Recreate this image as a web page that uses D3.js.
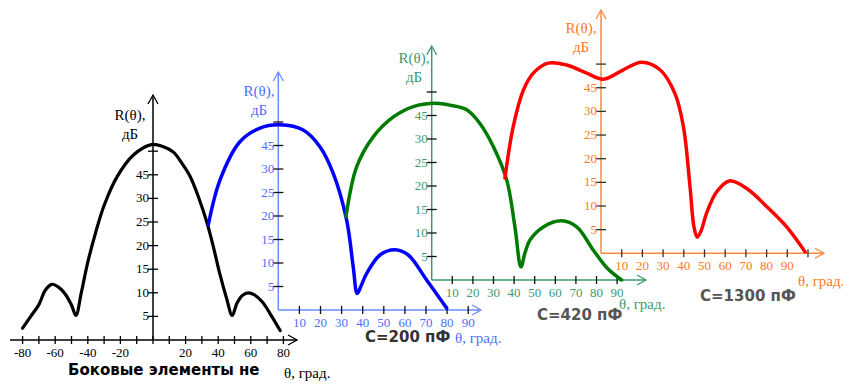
<!DOCTYPE html>
<html>
<head>
<meta charset="utf-8">
<script src="https://cdn.jsdelivr.net/npm/d3@7"></script>
<style>
  body { margin: 0; background: #fff; }
  svg { display: block; }
  .tick-label { font-family: "Liberation Serif", "DejaVu Serif", serif; font-size: 13px; }
  .axis-title { font-family: "Liberation Serif", "DejaVu Serif", serif; font-size: 15px; }
  .cap { font-family: "DejaVu Sans", sans-serif; font-size: 15px; font-weight: bold; }
</style>
</head>
<body>
<div id="chart"></div>
<script>
// R(theta) curves, [theta in degrees, level]
const sideOff = [[-80, 2.5], [-75, 5], [-70, 7.5], [-66, 10.6], [-62, 11.8], [-58, 11.2], [-54, 9.8], [-50, 7.4], [-47.3, 5.2], [-44, 10], [-40, 16.5], [-35, 23], [-30, 28.5], [-22, 34.6], [-12, 39.2], [-1, 41.4], [6, 41], [12.5, 39.8], [18, 37.3], [23, 34.5], [28, 30.2], [33, 25], [37, 19.8], [41, 14], [45, 9], [48.6, 5.2], [51.5, 7.8], [55, 9.5], [58.5, 10], [62, 9.6], [67, 8.1], [72, 5.5], [78, 2]];
const c200 = [[-33.2, 18.1], [-27.6, 27.7], [-18.2, 35.8], [-8.7, 38.7], [0.8, 39.4], [11.8, 38.3], [19.8, 34.7], [26, 29.1], [32.4, 19.1], [35.5, 9.2], [37.4, 3.5], [39.4, 5.3], [41.9, 7.8], [48.2, 11.7], [55.3, 12.8], [61.6, 11.7], [70.3, 6.4], [79.8, 0.4]];
const c420 = [[-41.6, 13.5], [-36.4, 24.1], [-28.3, 30.5], [-18.6, 34.7], [-8.9, 36.9], [1.6, 37.6], [8.9, 37.2], [17, 36.2], [23.4, 33.3], [29.9, 28.4], [36.4, 21.3], [40.4, 11.3], [43.3, 2.8], [45.3, 5.8], [47.7, 8.5], [54.2, 11.3], [63.1, 12.6], [70.4, 11.3], [78.4, 6.4], [85, 2.6], [92.2, 0]];
const c1300 = [[-46.4, 15.9], [-42.4, 26.8], [-37.5, 34.5], [-32.7, 38.1], [-25.5, 40.2], [-16.6, 39.8], [-6.9, 38.1], [1.1, 36.8], [10.8, 38.8], [19.7, 40.4], [28.5, 38.8], [35.7, 33.8], [39.8, 26.8], [43, 14.1], [44.9, 5.6], [46.5, 3.4], [48.4, 4.8], [51, 8.5], [55.9, 13], [62, 15.3], [70.4, 13.7], [80, 9.9], [89.7, 5.6], [98.6, 0.3]];

// tick labels (the picture labels the 7th tick "45" and leaves the 8th empty)
const yTicks = [5, 10, 15, 20, 25, 30, 35, 40];
const yLabels = ["5", "10", "15", "20", "25", "30", "45", ""];
const xTicksSym = d3.range(-80, 81, 10);
const xLabelsSym = [-80, -60, -40, -20, 20, 40, 60, 80];
const xTicks90 = d3.range(10, 91, 10);
const xTicks100 = d3.range(10, 101, 10);
const xLabels90 = ["10", "20", "30", "40", "50", "60", "70", "80", "90"];

const W = 843, H = 385;
const svg = d3.select("#chart").append("svg").attr("width", W).attr("height", H);

const panels = [
  { data: sideOff, ox: 153, oy: 340, dx: 1.63, dy: 4.72, xStart: 10, xEnd: 297, yTop: 95,
    ticks: xTicksSym, labels: xLabelsSym.map(String), labelAt: xLabelsSym,
    line: "#000", axis: "#000", text: "#000", tick: "#000", titleX: 130, titleY: 120, lw: 3.2 },
  { data: c200, ox: 278.3, oy: 310, dx: 2.11, dy: 4.7, xStart: 278.3, xEnd: 481, yTop: 72,
    ticks: xTicks90, labels: xLabels90, labelAt: xTicks90,
    line: "#0000ff", axis: "#6a8cff", text: "#4d6fff", tick: "#111", titleX: 259, titleY: 96, lw: 3.5 },
  { data: c420, ox: 431.7, oy: 280, dx: 2.06, dy: 4.7, xStart: 431.7, xEnd: 646, yTop: 46,
    ticks: xTicks90, labels: xLabels90, labelAt: xTicks90,
    line: "#007a00", axis: "#3d9a6a", text: "#3d9a6a", tick: "#111", titleX: 414, titleY: 63, lw: 3.5 },
  { data: c1300, ox: 601, oy: 253.3, dx: 2.07, dy: 4.73, xStart: 601, xEnd: 824, yTop: 10,
    ticks: xTicks100, labels: xLabels90, labelAt: xTicks90,
    line: "#ff0000", axis: "#ff8a3d", text: "#ff7a20", tick: "#333", titleX: 581, titleY: 33, lw: 3.5 }
];

panels.forEach(p => {
  const g = svg.append("g");
  const x = d3.scaleLinear().domain([0, 10]).range([p.ox, p.ox + 10 * p.dx]);
  const y = d3.scaleLinear().domain([0, 10]).range([p.oy, p.oy - 10 * p.dy]);

  // axes
  g.append("line").attr("x1", p.xStart).attr("x2", p.xEnd).attr("y1", p.oy).attr("y2", p.oy)
    .attr("stroke", p.axis).attr("stroke-width", 1.5);
  g.append("path").attr("d", `M${p.xEnd - 9},${p.oy - 5}L${p.xEnd},${p.oy}L${p.xEnd - 9},${p.oy + 5}`)
    .attr("fill", "none").attr("stroke", p.axis).attr("stroke-width", 1.3);
  g.append("line").attr("x1", p.ox).attr("x2", p.ox).attr("y1", p.oy).attr("y2", p.yTop)
    .attr("stroke", p.axis).attr("stroke-width", 1.5);
  g.append("path").attr("d", `M${p.ox - 5},${p.yTop + 9}L${p.ox},${p.yTop}L${p.ox + 5},${p.yTop + 9}`)
    .attr("fill", "none").attr("stroke", p.axis).attr("stroke-width", 1.3);

  // x ticks
  g.selectAll(".xt").data(p.ticks).enter().append("line")
    .attr("x1", d => x(d)).attr("x2", d => x(d))
    .attr("y1", p.oy - 4).attr("y2", p.oy + 4)
    .attr("stroke", p.tick).attr("stroke-width", 1.3);
  g.selectAll(".xl").data(p.labelAt).enter().append("text")
    .attr("class", "tick-label")
    .attr("x", d => x(d)).attr("y", p.oy + 17)
    .attr("text-anchor", "middle").attr("fill", p.text)
    .text((d, i) => p.labels[i]);

  // y ticks
  g.selectAll(".yt").data(yTicks).enter().append("line")
    .attr("x1", p.ox - 5).attr("x2", p.ox + 5)
    .attr("y1", d => y(d)).attr("y2", d => y(d))
    .attr("stroke", p.tick).attr("stroke-width", 1.3);
  g.selectAll(".yl").data(yTicks).enter().append("text")
    .attr("class", "tick-label")
    .attr("x", p.ox - 4).attr("y", d => y(d) + 4)
    .attr("text-anchor", "end").attr("fill", p.text)
    .text((d, i) => yLabels[i]);

  // axis title
  g.append("text").attr("class", "axis-title").attr("x", p.titleX).attr("y", p.titleY)
    .attr("text-anchor", "middle").attr("fill", p.text).text("R(θ),");
  g.append("text").attr("class", "axis-title").attr("x", p.titleX).attr("y", p.titleY + 19)
    .attr("text-anchor", "middle").attr("fill", p.text).text("дБ");

  // curve
  const line = d3.line()
    .x(d => x(d[0]))
    .y(d => y(d[1]))
    .curve(d3.curveCatmullRom.alpha(0.5));
  g.append("path").datum(p.data).attr("d", line)
    .attr("fill", "none").attr("stroke", p.line)
    .attr("stroke-width", p.lw).attr("stroke-linejoin", "round").attr("stroke-linecap", "round");
});

// captions
const serifLab = (tx, ty, c) => svg.append("text").attr("class", "axis-title")
  .attr("x", tx).attr("y", ty).attr("fill", c).text("θ, град.");
serifLab(284, 378, "#000");
serifLab(455, 343, "#4d6fff");
serifLab(619, 309, "#3d9a6a");
serifLab(798, 286, "#ff7a20");

const cap = (tx, ty, c, s) => svg.append("text").attr("class", "cap")
  .attr("x", tx).attr("y", ty).attr("fill", c).text(s);
cap(365, 342, "#333", "C=200 пФ");
cap(537, 320, "#555", "C=420 пФ");
cap(700, 301, "#555", "C=1300 пФ");
cap(68, 375, "#000", "Боковые элементы не");
cap(106, 396, "#000", "подключены");
</script>
</body>
</html>
